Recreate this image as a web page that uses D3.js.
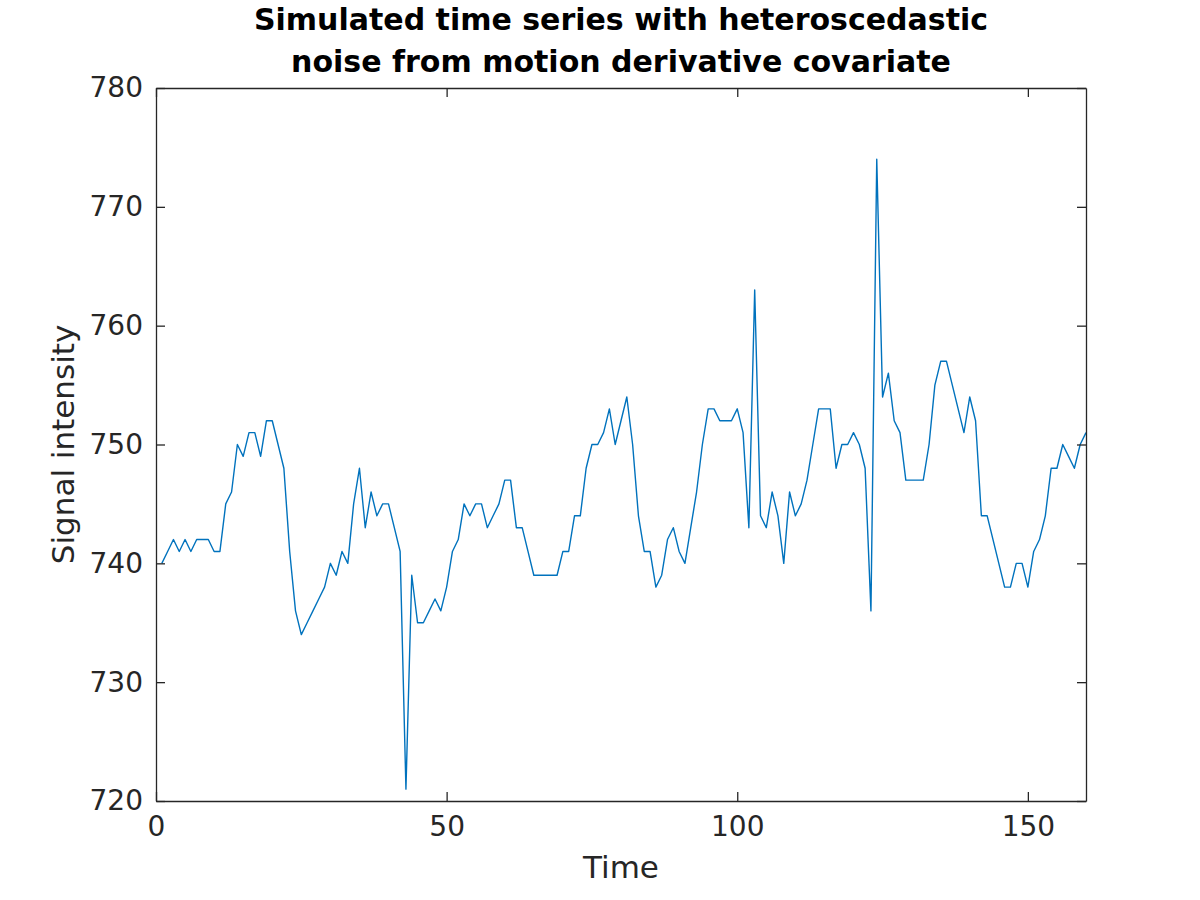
<!DOCTYPE html>
<html>
<head>
<meta charset="utf-8">
<script src="https://cdn.jsdelivr.net/npm/d3@7"></script>
<style>
  html, body { margin: 0; padding: 0; background: #fff; }
  svg { display: block; }
  text { font-family: "DejaVu Sans", sans-serif; fill: #262626; }
</style>
</head>
<body>
<svg id="chart" width="1200" height="900"></svg>
<script>
// ---- data ----
const titleLines = ["Simulated time series with heteroscedastic", "noise from motion derivative covariate"];
const xLabel = "Time";
const yLabel = "Signal intensity";
const xTicks = [0, 50, 100, 150];
const yTicks = [720, 730, 740, 750, 760, 770, 780];
const timePoints = d3.range(1, 161);
const signal = [
  740, 741, 742, 741, 742, 741, 742, 742, 742, 741,
  741, 745, 746, 750, 749, 751, 751, 749, 752, 752,
  750, 748, 741, 736, 734, 735, 736, 737, 738, 740,
  739, 741, 740, 745, 748, 743, 746, 744, 745, 745,
  743, 741, 721, 739, 735, 735, 736, 737, 736, 738,
  741, 742, 745, 744, 745, 745, 743, 744, 745, 747,
  747, 743, 743, 741, 739, 739, 739, 739, 739, 741,
  741, 744, 744, 748, 750, 750, 751, 753, 750, 752,
  754, 750, 744, 741, 741, 738, 739, 742, 743, 741,
  740, 743, 746, 750, 753, 753, 752, 752, 752, 753,
  751, 743, 763, 744, 743, 746, 744, 740, 746, 744,
  745, 747, 750, 753, 753, 753, 748, 750, 750, 751,
  750, 748, 736, 774, 754, 756, 752, 751, 747, 747,
  747, 747, 750, 755, 757, 757, 755, 753, 751, 754,
  752, 744, 744, 742, 740, 738, 738, 740, 740, 738,
  741, 742, 744, 748, 748, 750, 749, 748, 750, 751
];

// ---- layout ----
const svg = d3.select("#chart");
const L = 156, R = 1086, T = 88, B = 801;
const x = d3.scaleLinear().domain([0, 160]).range([L, R]);
const y = d3.scaleLinear().domain([720, 780]).range([B, T]);
const axisColor = "#262626";
const tickLen = 9;

// line
const line = d3.line().x((d, i) => x(timePoints[i])).y(d => y(d));
svg.append("path").datum(signal)
  .attr("d", line)
  .attr("fill", "none")
  .attr("stroke", "#0072BD")
  .attr("stroke-width", 1.4)
  .attr("stroke-linejoin", "round");

// axes (ticks inward, box on all sides)
const fs = 28;
const gBottom = svg.append("g").attr("transform", `translate(0,${B})`)
  .call(d3.axisBottom(x).tickValues(xTicks).tickSize(-tickLen).tickPadding(tickLen + 6).tickSizeOuter(0));
const gTop = svg.append("g").attr("transform", `translate(0,${T})`)
  .call(d3.axisTop(x).tickValues(xTicks).tickSize(-tickLen).tickFormat("").tickSizeOuter(0));
const gLeft = svg.append("g").attr("transform", `translate(${L},0)`)
  .call(d3.axisLeft(y).tickValues(yTicks).tickSize(-tickLen).tickPadding(tickLen + 4).tickSizeOuter(0));
const gRight = svg.append("g").attr("transform", `translate(${R},0)`)
  .call(d3.axisRight(y).tickValues(yTicks).tickSize(-tickLen).tickFormat("").tickSizeOuter(0));

[gBottom, gTop, gLeft, gRight].forEach(g => {
  g.select(".domain").attr("stroke", axisColor).attr("stroke-width", 1.3);
  g.selectAll(".tick line").attr("stroke", axisColor).attr("stroke-width", 1.3);
  g.selectAll(".tick text").attr("fill", axisColor)
    .style("font-family", "'DejaVu Sans', sans-serif").style("font-size", fs + "px");
});

// axis labels
svg.append("text").attr("x", (L + R) / 2).attr("y", 878)
  .attr("text-anchor", "middle").style("font-size", "31px").text(xLabel);
svg.append("text").attr("transform", `translate(74,${(T + B) / 2}) rotate(-90)`)
  .attr("text-anchor", "middle").style("font-size", "31px").text(yLabel);

// title
svg.selectAll("text.title").data(titleLines).enter().append("text")
  .attr("class", "title")
  .attr("x", (L + R) / 2)
  .attr("y", (d, i) => 30 + i * 42)
  .attr("text-anchor", "middle")
  .style("font-size", "30px").style("font-weight", "bold")
  .style("fill", "#000")
  .text(d => d);
</script>
</body>
</html>
